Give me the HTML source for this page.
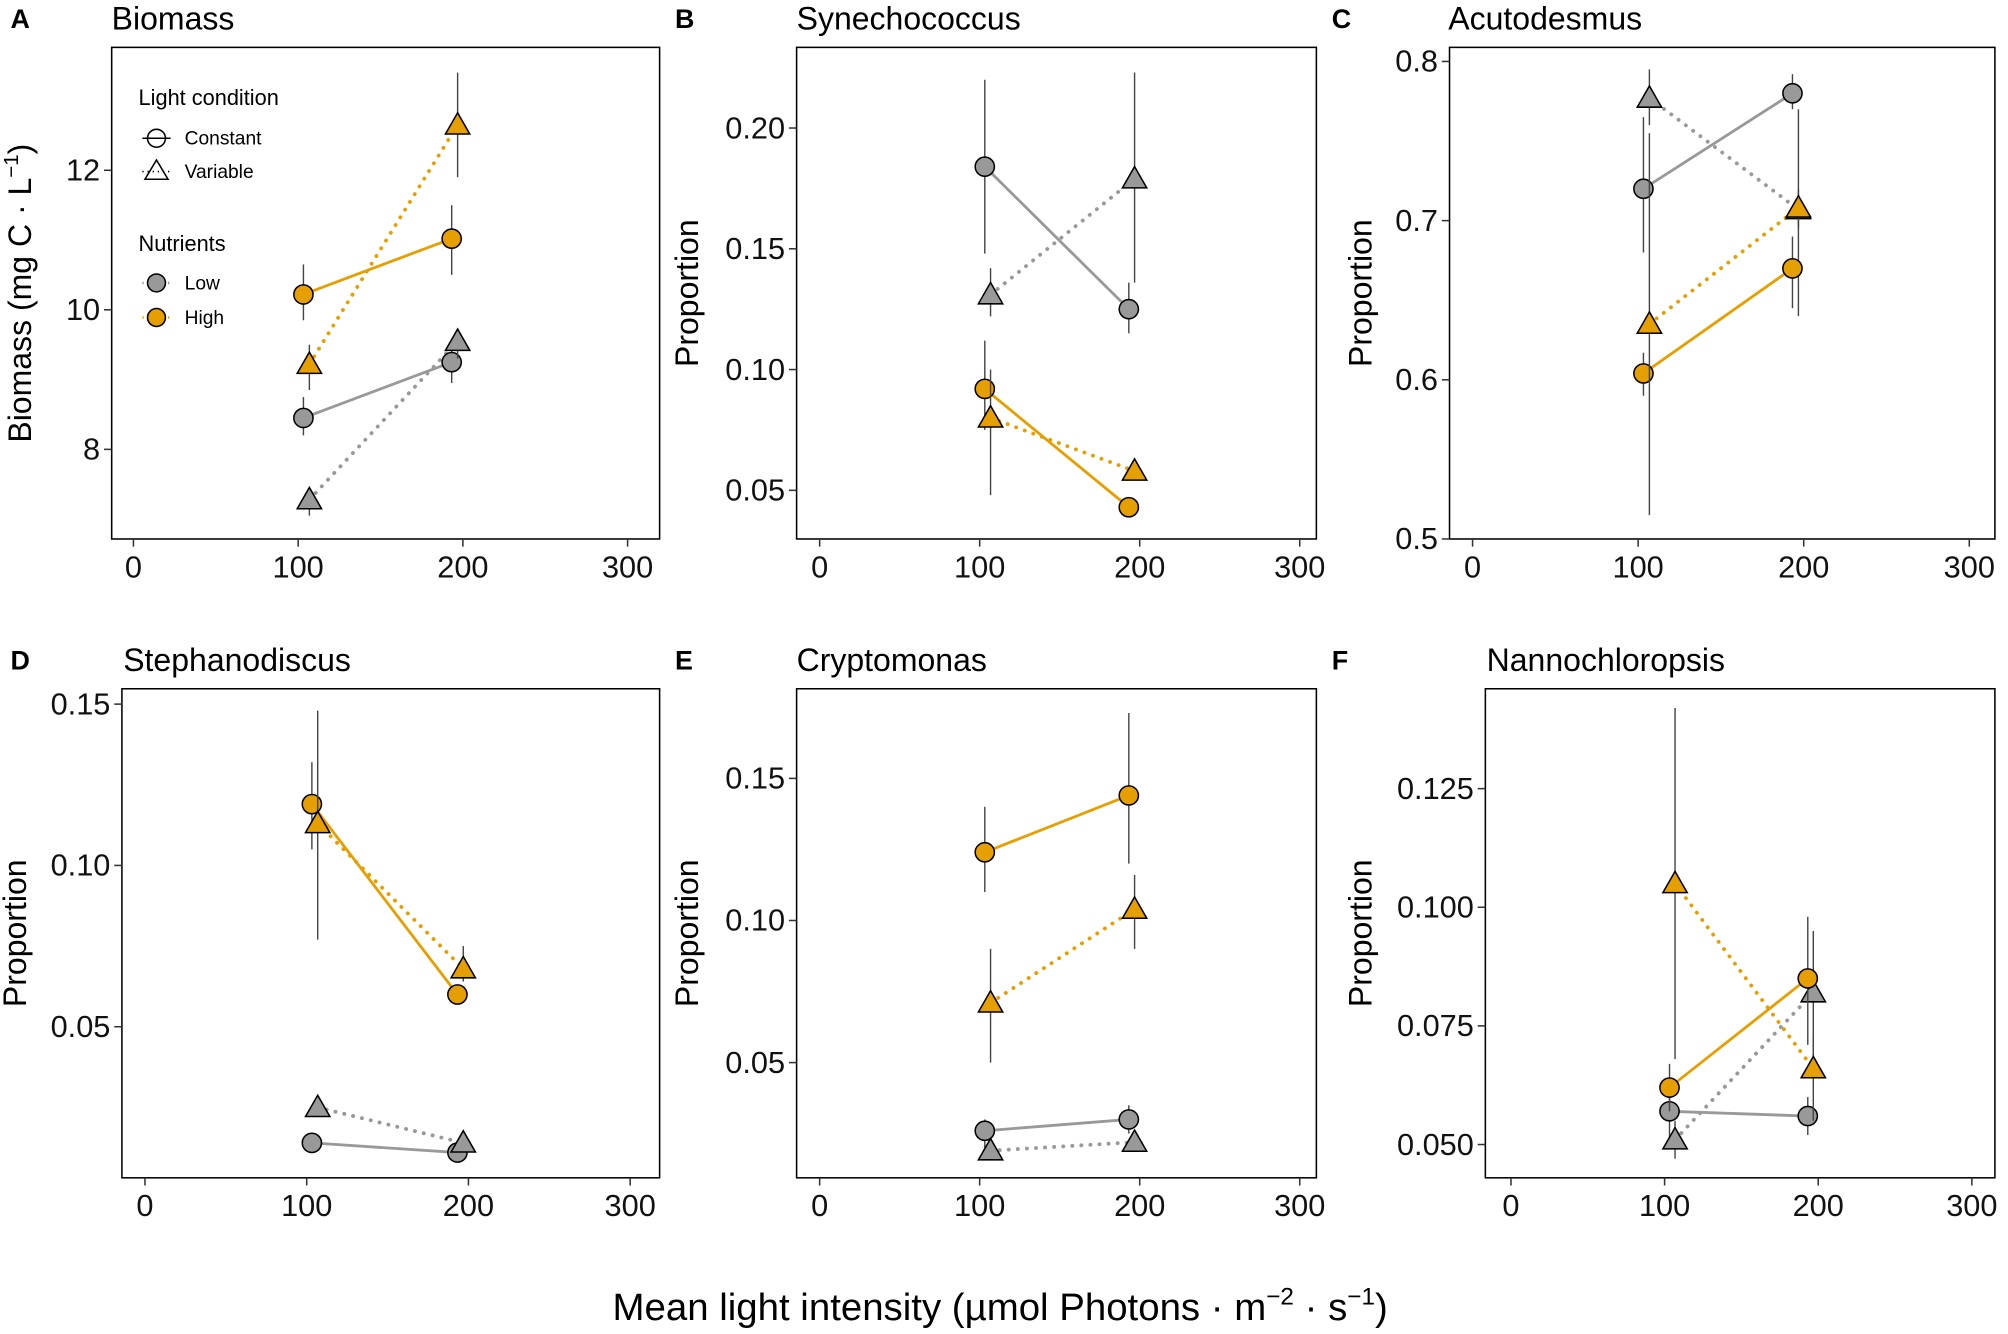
<!DOCTYPE html>
<html><head><meta charset="utf-8"><style>
html,body{margin:0;padding:0;background:#fff;}
svg{display:block;font-family:"Liberation Sans",Arial,sans-serif;}
</style></head><body>
<svg id="fig" width="2008" height="1334" viewBox="0 0 1568 1042" xmlns="http://www.w3.org/2000/svg"></svg>
<script>
const xVals = [105, 195];
const xTicks = [0, 100, 200, 300];
const panelTitles = ["Biomass","Synechococcus","Acutodesmus","Stephanodiscus","Cryptomonas","Nannochloropsis"];
const panelLetters = ["A","B","C","D","E","F"];
const A_lowConst=[8.45,9.25], A_lowConstErr=[[8.2,8.75],[8.95,9.5]];
const A_lowVar=[7.28,9.55], A_lowVarErr=[[7.05,7.45],[9.3,9.7]];
const A_highConst=[10.22,11.02], A_highConstErr=[[9.85,10.65],[10.5,11.5]];
const A_highVar=[9.22,12.65], A_highVarErr=[[8.85,9.5],[11.9,13.4]];
const B_lowConst=[0.184,0.125], B_lowConstErr=[[0.148,0.22],[0.115,0.136]];
const B_lowVar=[0.131,0.179], B_lowVarErr=[[0.122,0.142],[0.136,0.223]];
const B_highConst=[0.092,0.043], B_highConstErr=[[0.075,0.112],[0.04,0.046]];
const B_highVar=[0.080,0.058], B_highVarErr=[[0.048,0.100],[0.055,0.061]];
const C_lowConst=[0.72,0.78], C_lowConstErr=[[0.68,0.765],[0.77,0.792]];
const C_lowVar=[0.777,0.707], C_lowVarErr=[[0.76,0.795],[0.64,0.77]];
const C_highConst=[0.604,0.67], C_highConstErr=[[0.59,0.617],[0.645,0.69]];
const C_highVar=[0.635,0.708], C_highVarErr=[[0.515,0.755],[0.695,0.72]];
const D_lowConst=[0.014,0.011], D_lowConstErr=[[0.013,0.015],[0.010,0.012]];
const D_lowVar=[0.025,0.014], D_lowVarErr=[[0.024,0.026],[0.013,0.015]];
const D_highConst=[0.119,0.060], D_highConstErr=[[0.105,0.132],[0.058,0.062]];
const D_highVar=[0.113,0.068], D_highVarErr=[[0.077,0.148],[0.064,0.075]];
const E_lowConst=[0.026,0.030], E_lowConstErr=[[0.020,0.030],[0.025,0.035]];
const E_lowVar=[0.019,0.022], E_lowVarErr=[[0.018,0.020],[0.020,0.025]];
const E_highConst=[0.124,0.144], E_highConstErr=[[0.110,0.140],[0.120,0.173]];
const E_highVar=[0.071,0.104], E_highVarErr=[[0.050,0.090],[0.090,0.116]];
const F_lowConst=[0.057,0.056], F_lowConstErr=[[0.050,0.063],[0.052,0.060]];
const F_lowVar=[0.051,0.082], F_lowVarErr=[[0.047,0.055],[0.066,0.095]];
const F_highConst=[0.062,0.085], F_highConstErr=[[0.057,0.067],[0.071,0.098]];
const F_highVar=[0.105,0.066], F_highVarErr=[[0.068,0.142],[0.055,0.073]];
const A_yTicks=[8,10,12], B_yTicks=[0.05,0.10,0.15,0.20], C_yTicks=[0.5,0.6,0.7,0.8];
const D_yTicks=[0.05,0.10,0.15], E_yTicks=[0.05,0.10,0.15], F_yTicks=[0.050,0.075,0.100,0.125];

const NS="http://www.w3.org/2000/svg";
const svg=document.getElementById('fig');
function mk(tag,attrs,parent){const e=document.createElementNS(NS,tag);for(const k in attrs)e.setAttribute(k,attrs[k]);(parent||svg).appendChild(e);return e;}

const panels=[
 {box:[87,37,515,421],x0:104,x300:490,ya:[8,351,12,133],ticks:A_yTicks,dec:0,d:[A_lowConst,A_lowConstErr,A_lowVar,A_lowVarErr,A_highConst,A_highConstErr,A_highVar,A_highVarErr],yt:null,ytx:24},
 {box:[622,37,1028,421],x0:640,x300:1015,ya:[0.05,383,0.20,100],ticks:B_yTicks,dec:2,d:[B_lowConst,B_lowConstErr,B_lowVar,B_lowVarErr,B_highConst,B_highConstErr,B_highVar,B_highVarErr],yt:"Proportion",ytx:545},
 {box:[1132,37,1558,421],x0:1150,x300:1538,ya:[0.5,421,0.8,48],ticks:C_yTicks,dec:1,d:[C_lowConst,C_lowConstErr,C_lowVar,C_lowVarErr,C_highConst,C_highConstErr,C_highVar,C_highVarErr],yt:"Proportion",ytx:1071},
 {box:[95,538,515,920],x0:113,x300:492,ya:[0.05,802,0.15,550],ticks:D_yTicks,dec:2,d:[D_lowConst,D_lowConstErr,D_lowVar,D_lowVarErr,D_highConst,D_highConstErr,D_highVar,D_highVarErr],yt:"Proportion",ytx:20},
 {box:[622,538,1028,920],x0:640,x300:1015,ya:[0.05,830,0.15,608],ticks:E_yTicks,dec:2,d:[E_lowConst,E_lowConstErr,E_lowVar,E_lowVarErr,E_highConst,E_highConstErr,E_highVar,E_highVarErr],yt:"Proportion",ytx:545},
 {box:[1160,538,1558,920],x0:1180,x300:1540,ya:[0.05,894,0.125,616],ticks:F_yTicks,dec:3,d:[F_lowConst,F_lowConstErr,F_lowVar,F_lowVarErr,F_highConst,F_highConstErr,F_highVar,F_highVarErr],yt:"Proportion",ytx:1071}
];
const GRAY="#999999", ORANGE="#E69F00";
function tri(g,cx,cy,fill){const s=9.5;return mk('polygon',{points:`${cx},${cy-s} ${cx+s},${cy+s*0.75} ${cx-s},${cy+s*0.75}`,fill:fill,stroke:'#000','stroke-width':1.2},g);}
function circ(g,cx,cy,fill){return mk('circle',{cx:cx,cy:cy,r:7.5,fill:fill,stroke:'#000','stroke-width':1.2},g);}

panels.forEach((P,i)=>{
 const g=mk('g',{});
 
 
 const [bx1,by1,bx2,by2]=P.box;
 const X=v=>P.x0+(P.x300-P.x0)*v/300;
 const Y=v=>P.ya[1]+(v-P.ya[0])*(P.ya[3]-P.ya[1])/(P.ya[2]-P.ya[0]);
 const box=mk('rect',{x:bx1,y:by1,width:bx2-bx1,height:by2-by1,fill:'none',stroke:'#000','stroke-width':1.2},g);
 
 
 const L=mk('text',{x:i%3==0?8:(i%3==1?527:1040),y:by1-15,'font-size':21,'font-weight':'bold'},g);L.textContent=panelLetters[i];
 
 
 const T=mk('text',{x:i==0?87:(i==3?96:bx1),y:by1-14,'font-size':25},g);T.textContent=panelTitles[i];
 if(i==2)T.setAttribute('x',1131);
 if(i==5)T.setAttribute('x',1161);
 
 
 xTicks.forEach(t=>{
  mk('line',{x1:X(t),x2:X(t),y1:by2,y2:by2+6,stroke:'#333','stroke-width':1.2},g);
  const tx=mk('text',{x:X(t),y:by2+30,'font-size':24,'text-anchor':'middle',fill:'#111'},g);tx.textContent=t;
  
  
 });
 P.ticks.forEach(t=>{
  mk('line',{x1:bx1-6,x2:bx1,y1:Y(t),y2:Y(t),stroke:'#333','stroke-width':1.2},g);
  const ty=mk('text',{x:bx1-9,y:Y(t)+8,'font-size':24,'text-anchor':'end',fill:'#111'},g);ty.textContent=t.toFixed(P.dec);
  
  
 });
 const cy=(by1+by2)/2;
 const yl=mk('text',{x:0,y:0,'font-size':25,'text-anchor':'middle',transform:`translate(${P.ytx},${cy}) rotate(-90)`},g);
 if(P.yt) yl.textContent=P.yt;
 else { yl.innerHTML='Biomass (mg C · L<tspan dy="-10" font-size="16">−1</tspan><tspan dy="10">)</tspan>'; }
 
 
 const series=[[0,GRAY,false,-1],[2,GRAY,true,1],[4,ORANGE,false,-1],[6,ORANGE,true,1]];
 series.forEach(([k,col,isVar,off])=>{
  const vals=P.d[k];
  const xs=xVals.map(x=>X(x+off*1.8));
  const ln=mk('line',{x1:xs[0],y1:Y(vals[0]),x2:xs[1],y2:Y(vals[1]),stroke:col,'stroke-width':2.2,'stroke-linecap':'round'},g);
  if(isVar){ln.setAttribute('stroke-dasharray','0.1 7');ln.setAttribute('stroke-width','3');}
  
  
 });
 series.forEach(([k,col,isVar,off])=>{
  const vals=P.d[k], errs=P.d[k+1];
  vals.forEach((v,j)=>{
   const x=X(xVals[j]+off*1.8);
   const e=mk('line',{x1:x,x2:x,y1:Y(errs[j][0]),y2:Y(errs[j][1]),stroke:'#444','stroke-width':1.1},g);
   
   
   const m=isVar?tri(g,x,Y(v),col):circ(g,x,Y(v),col);
   
   
  });
 });
});
const lg=mk('g',{});


function lt(x,y,s,fs){const t=mk('text',{x:x,y:y,'font-size':fs},lg);t.textContent=s;return t;}
lt(108,82,'Light condition',17);
mk('line',{x1:111,x2:133,y1:108,y2:108,stroke:'#000','stroke-width':1.2},lg);
mk('circle',{cx:122,cy:108,r:7,fill:'none',stroke:'#000','stroke-width':1.2},lg);
lt(144,113,'Constant',15);
mk('line',{x1:111,x2:133,y1:134,y2:134,stroke:'#000','stroke-width':1.2,'stroke-dasharray':'1 3'},lg);
mk('polygon',{points:'122,125 131,140 113,140',fill:'none',stroke:'#000','stroke-width':1.2},lg);
lt(144,139,'Variable',15);
lt(108,196,'Nutrients',17);
mk('line',{x1:111,x2:133,y1:221,y2:221,stroke:GRAY,'stroke-width':2,'stroke-dasharray':'1 3'},lg);
mk('circle',{cx:122,cy:221,r:7,fill:GRAY,stroke:'#000','stroke-width':1.2},lg);
lt(144,226,'Low',15);
mk('line',{x1:111,x2:133,y1:248,y2:248,stroke:ORANGE,'stroke-width':2,'stroke-dasharray':'1 3'},lg);
mk('circle',{cx:122,cy:248,r:7,fill:ORANGE,stroke:'#000','stroke-width':1.2},lg);
lt(144,253,'High',15);
const xt=mk('text',{x:781,y:1031,'font-size':30,'text-anchor':'middle'});
xt.innerHTML='Mean light intensity (µmol Photons · m<tspan dy="-12" font-size="19">−2</tspan><tspan dy="12"> · s</tspan><tspan dy="-12" font-size="19">−1</tspan><tspan dy="12">)</tspan>';


</script>
</body></html>
